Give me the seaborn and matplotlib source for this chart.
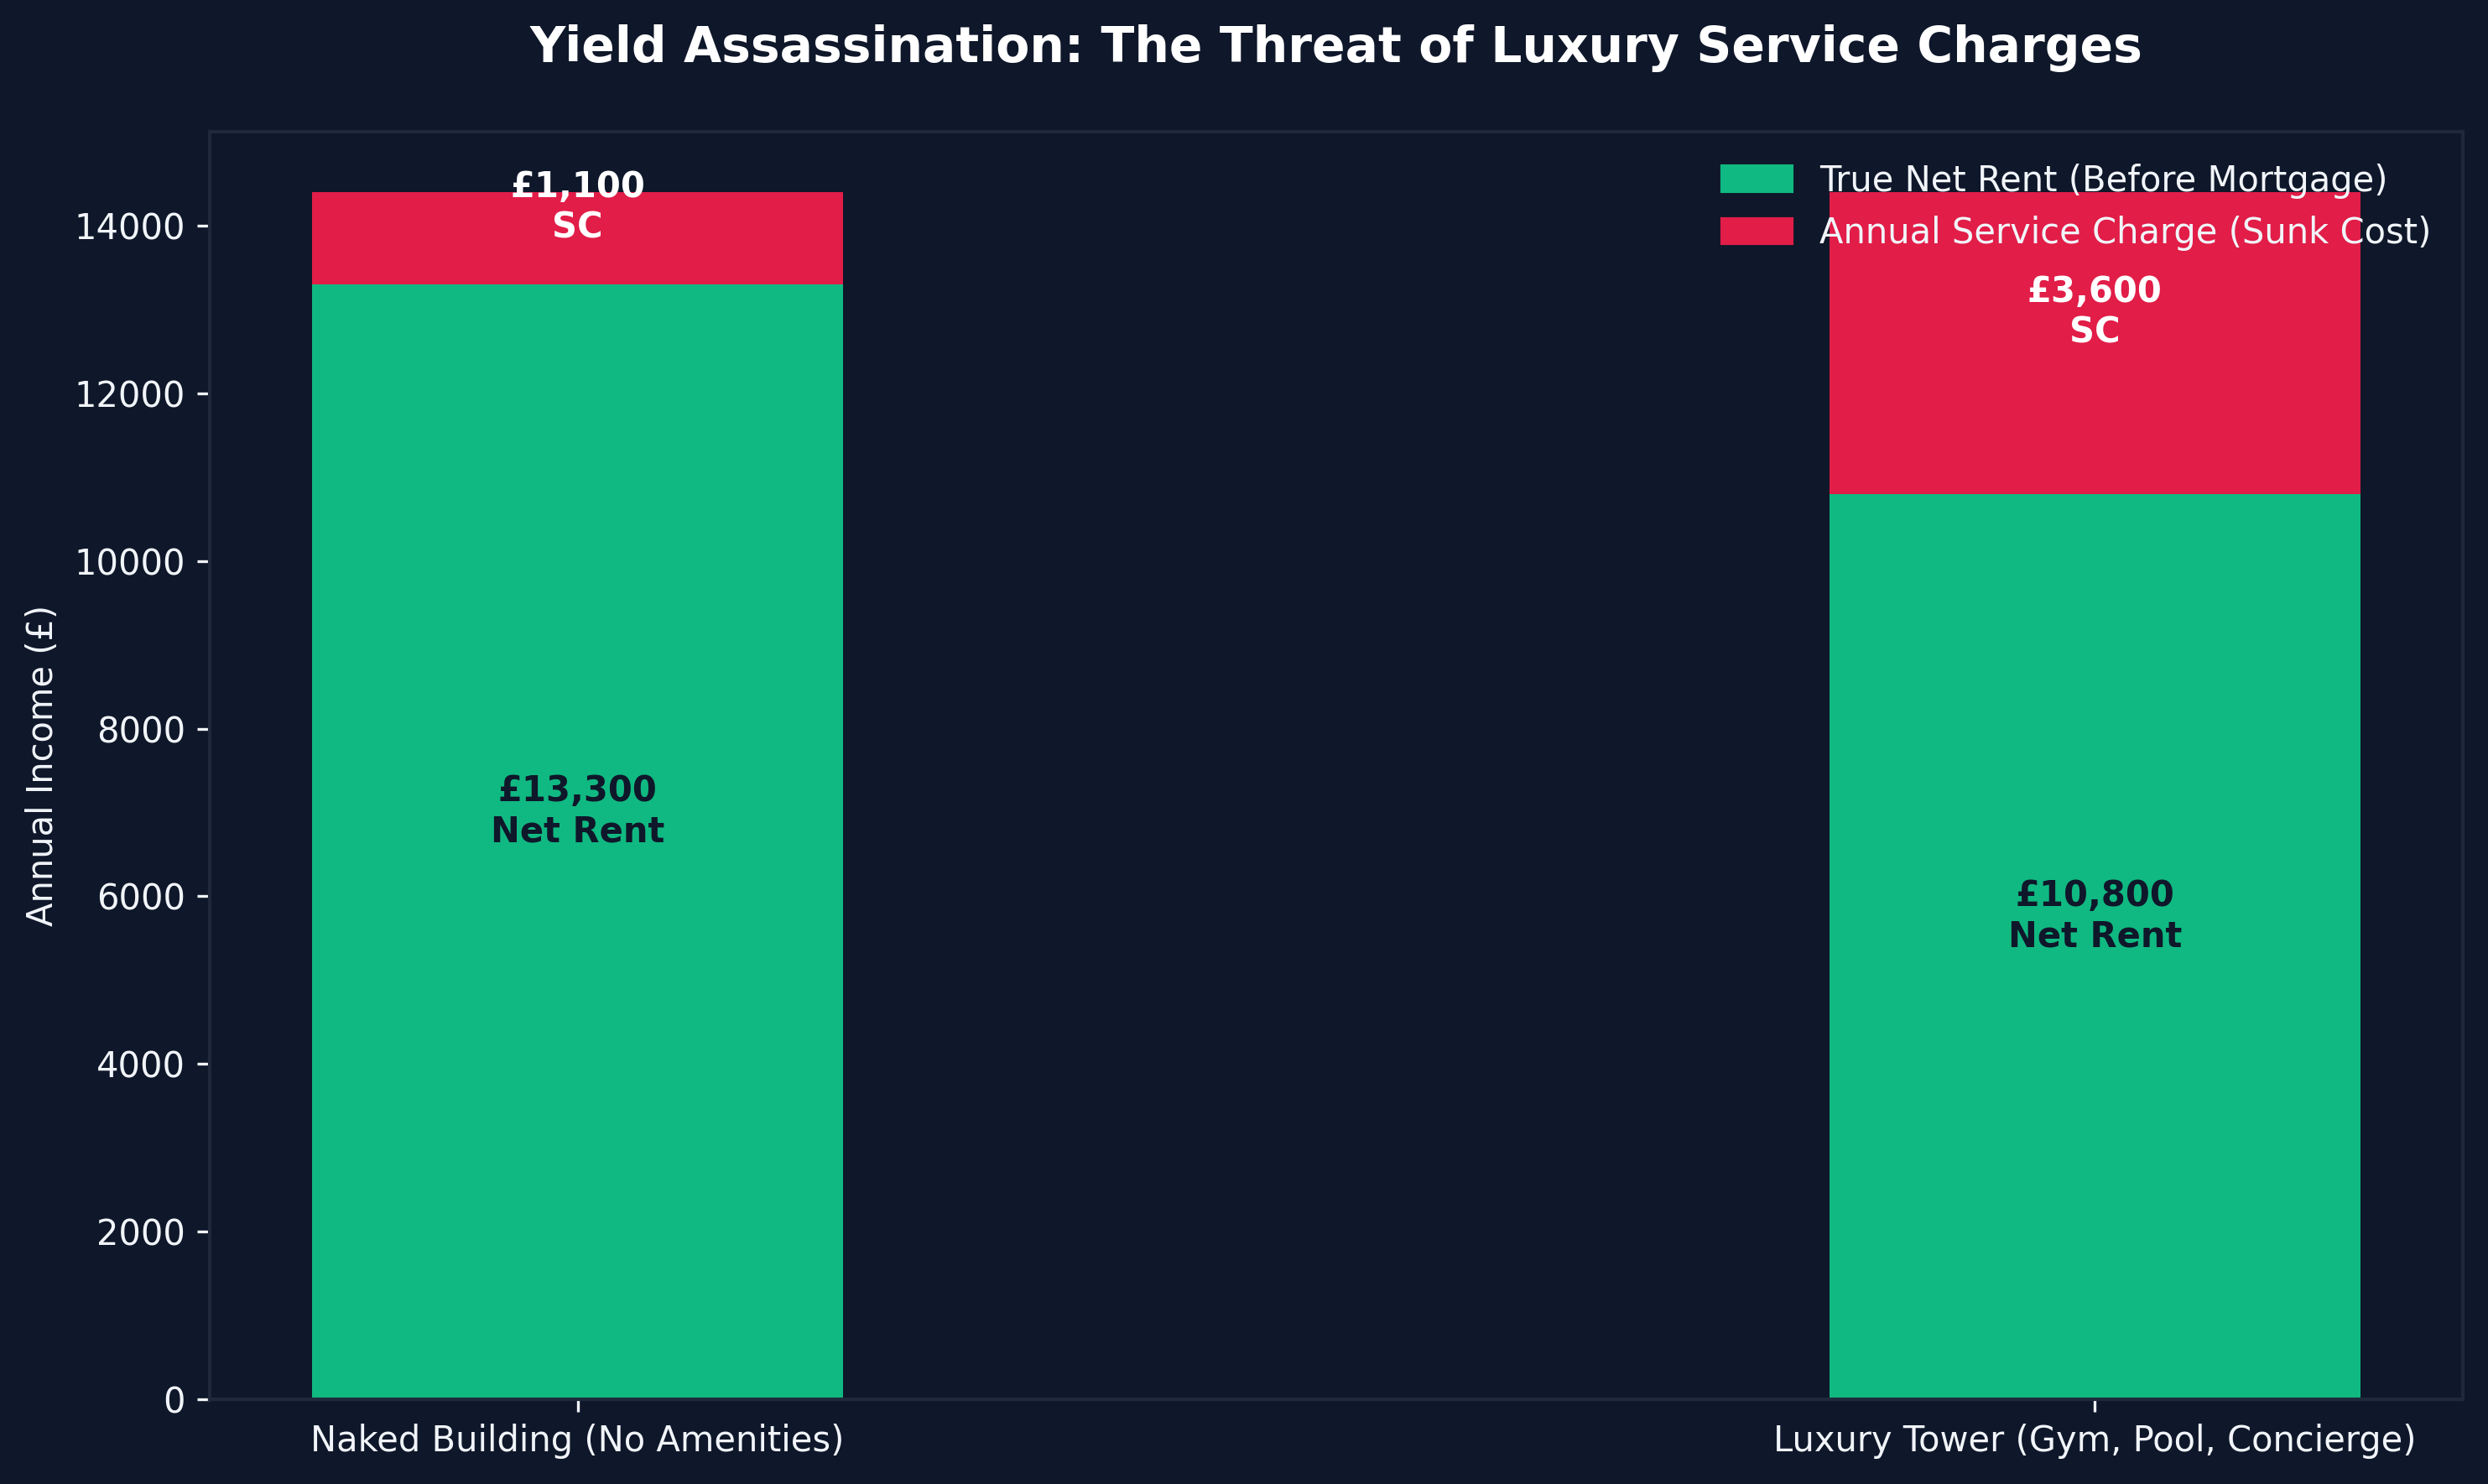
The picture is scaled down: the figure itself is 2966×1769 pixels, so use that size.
"""
Service charge vs net rent - stacked bar comparison.
"""

import matplotlib
matplotlib.use("Agg")
import matplotlib.pyplot as plt
import matplotlib.patches as mpatches
import seaborn as sns

# data
buildings = ['Naked Building (No Amenities)', 'Luxury Tower (Gym, Pool, Concierge)']
net_rent = [13300, 10800]
service_charge = [1100, 3600]
gross = [n + s for n, s in zip(net_rent, service_charge)]

BG = '#0f172a'
SPINE = '#1e293b'
GREEN = '#10b981'
RED = '#e11d48'
TXT = '#f1f5f9'

sns.set_style('dark', rc={
    'axes.facecolor': BG,
    'figure.facecolor': BG,
    'axes.edgecolor': SPINE,
    'axes.labelcolor': TXT,
    'xtick.color': TXT,
    'ytick.color': TXT,
    'text.color': TXT,
    'xtick.bottom': True,
    'ytick.left': True,
})
plt.rcParams['font.family'] = ['DejaVu Sans']

fig, ax = plt.subplots(figsize=(2966 / 300, 1769 / 300), dpi=300)
fig.subplots_adjust(left=0.0843, right=0.9899, top=0.9112, bottom=0.0571)

bar_w = 0.35
# full stack (red) first, then net rent (green) drawn over it
sns.barplot(x=buildings, y=gross, color=RED, width=bar_w, saturation=1,
            linewidth=0, edgecolor='none', ax=ax)
sns.barplot(x=buildings, y=net_rent, color=GREEN, width=bar_w, saturation=1,
            linewidth=0, edgecolor='none', ax=ax)

for i, (n, s) in enumerate(zip(net_rent, service_charge)):
    ax.text(i, n / 2, f"£{n:,}\nNet Rent", ha='center', va='baseline',
            fontsize=10, fontweight='bold', color=BG)
    ax.text(i, n + s / 2, f"£{s:,}\nSC", ha='center', va='baseline',
            fontsize=10, fontweight='bold', color='white')

pad = (len(buildings) - 1 + bar_w) * 0.05
ax.set_xlim(-bar_w / 2 - pad, len(buildings) - 1 + bar_w / 2 + pad)
ax.set_ylim(0, max(gross) * 1.05)

ax.set_ylabel('Annual Income (£)', fontsize=10)
ax.set_xlabel('')
ax.set_title('Yield Assassination: The Threat of Luxury Service Charges',
             fontsize=14, fontweight='bold', color='white', pad=20)
ax.tick_params(labelsize=10, length=3.5, width=0.8)
for sp in ax.spines.values():
    sp.set_color(SPINE)
    sp.set_linewidth(1.0)

handles = [mpatches.Patch(color=GREEN, label='True Net Rent (Before Mortgage)'),
           mpatches.Patch(color=RED, label='Annual Service Charge (Sunk Cost)')]
ax.legend(handles=handles, loc='upper right', frameon=False, fontsize=10,
          labelcolor=TXT)

fig.savefig('out.png', dpi=300, facecolor=BG)
